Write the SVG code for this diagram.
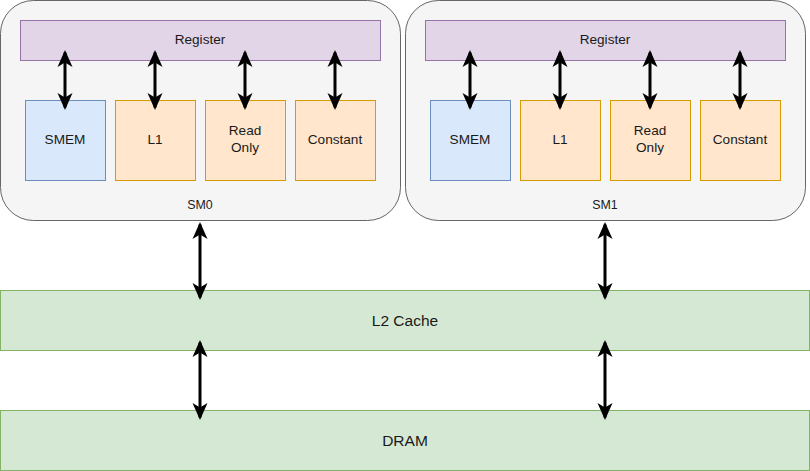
<svg xmlns="http://www.w3.org/2000/svg" width="810" height="471" viewBox="0 0 810 471">
<defs>
<marker id="ah" viewBox="0 0 17 16" refX="14.5" refY="8" markerWidth="17" markerHeight="16" markerUnits="userSpaceOnUse" orient="auto-start-reverse">
<path d="M17,8 L0,0.5 L4.5,8 L0,15.5 Z" fill="#000"/>
</marker>
<style>
text{font-family:"Liberation Sans",Arial,sans-serif;fill:#1a1a1a;text-anchor:middle;dominant-baseline:central}
.sm{fill:#f5f5f5;stroke:#666666;stroke-width:1}
.reg{fill:#e1d5e7;stroke:#9673a6;stroke-width:1}
.blue{fill:#dae8fc;stroke:#6c8ebf;stroke-width:1}
.org{fill:#ffe6cc;stroke:#d79b00;stroke-width:1}
.grn{fill:#d5e8d4;stroke:#82b366;stroke-width:1}
.c{stroke:#000;stroke-width:3;fill:none;marker-start:url(#ah);marker-end:url(#ah)}
.f13{font-size:13.6px}
.f12{font-size:12.4px}
.f15{font-size:15.5px}
</style>
</defs>
<g id="sm0">
<rect class="sm" x="0.5" y="0.5" width="400" height="220" rx="33" ry="33"/>
<text class="f12" x="200" y="205">SM0</text>
</g>
<g id="sm0-register"><rect class="reg" x="20.5" y="20.5" width="360" height="40"/><text class="f13" x="200" y="39">Register</text></g>
<g id="sm0-smem"><rect class="blue" x="25.5" y="100.5" width="80" height="80"/><text class="f13" x="65" y="139">SMEM</text></g>
<g id="sm0-l1"><rect class="org" x="115.5" y="100.5" width="80" height="80"/><text class="f13" x="155" y="139">L1</text></g>
<g id="sm0-ro"><rect class="org" x="205.5" y="100.5" width="80" height="80"/><text class="f13" x="245" y="130">Read</text><text class="f13" x="245" y="147">Only</text></g>
<g id="sm0-const"><rect class="org" x="295.5" y="100.5" width="80" height="80"/><text class="f13" x="335" y="139">Constant</text></g>
<g id="sm1">
<rect class="sm" x="405.5" y="0.5" width="400" height="220" rx="33" ry="33"/>
<text class="f12" x="605" y="205">SM1</text>
</g>
<g id="sm1-register"><rect class="reg" x="425.5" y="20.5" width="360" height="40"/><text class="f13" x="605" y="39">Register</text></g>
<g id="sm1-smem"><rect class="blue" x="430.5" y="100.5" width="80" height="80"/><text class="f13" x="470" y="139">SMEM</text></g>
<g id="sm1-l1"><rect class="org" x="520.5" y="100.5" width="80" height="80"/><text class="f13" x="560" y="139">L1</text></g>
<g id="sm1-ro"><rect class="org" x="610.5" y="100.5" width="80" height="80"/><text class="f13" x="650" y="130">Read</text><text class="f13" x="650" y="147">Only</text></g>
<g id="sm1-const"><rect class="org" x="700.5" y="100.5" width="80" height="80"/><text class="f13" x="740" y="139">Constant</text></g>
<g id="l2"><rect class="grn" x="0.5" y="290.5" width="809" height="60"/><text class="f15" x="405" y="320">L2 Cache</text></g>
<g id="dram"><rect class="grn" x="0.5" y="410.5" width="809" height="60"/><text class="f15" x="405" y="440">DRAM</text></g>
<g id="connectors">
<line class="c" x1="65" y1="52.5" x2="65" y2="107.5"/>
<line class="c" x1="155" y1="52.5" x2="155" y2="107.5"/>
<line class="c" x1="245" y1="52.5" x2="245" y2="107.5"/>
<line class="c" x1="335" y1="52.5" x2="335" y2="107.5"/>
<line class="c" x1="470" y1="52.5" x2="470" y2="107.5"/>
<line class="c" x1="560" y1="52.5" x2="560" y2="107.5"/>
<line class="c" x1="650" y1="52.5" x2="650" y2="107.5"/>
<line class="c" x1="740" y1="52.5" x2="740" y2="107.5"/>
<line class="c" x1="200" y1="224.5" x2="200" y2="297.5"/>
<line class="c" x1="605" y1="224.5" x2="605" y2="297.5"/>
<line class="c" x1="200" y1="342.5" x2="200" y2="417.5"/>
<line class="c" x1="605" y1="342.5" x2="605" y2="417.5"/>
</g>
</svg>
